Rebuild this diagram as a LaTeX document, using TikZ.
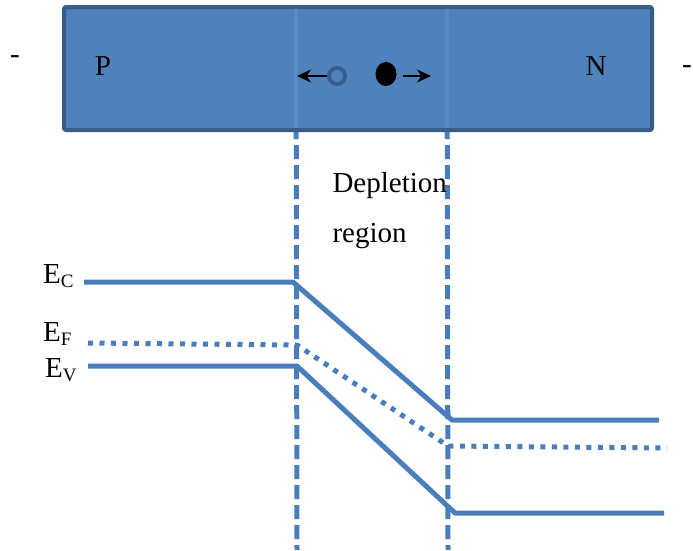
\documentclass[tikz,border=0pt]{standalone}
\usepackage{fontspec}
\setmainfont{Liberation Serif}
\usetikzlibrary{arrows.meta,shapes.geometric}
\definecolor{band}{HTML}{4A7EBB}
\definecolor{boxfill}{HTML}{4F81BD}
\definecolor{boxedge}{HTML}{385D8A}
\newcommand{\lvl}[1]{E\raisebox{-4pt}{\fontsize{19}{19}\selectfont #1}}

\begin{document}
\begin{tikzpicture}[x=1pt,y=-1pt,>={Stealth[length=14pt,width=13pt]}, font=\fontsize{29}{34}\selectfont, line join=round]
	\tikzset{
		level/.style={band, line width=5pt},
		fermi/.style={band, line width=5pt, dash pattern=on 5pt off 6.5pt},
		junction/.style={band, line width=5pt, dash pattern=on 14pt off 6pt},
	}
	\useasboundingbox (0,0) rectangle (693,550);
	% junction edges
	\coordinate (J1t) at (296,5);
	\coordinate (J1b) at (297,550);
	\coordinate (J2t) at (447,5);
	\coordinate (J2b) at (448,550);
	\draw[junction] (J1t) -- (J1b);
	\draw[junction] (J2t) -- (J2b);
	% the crystal
	\draw[boxedge, fill=boxfill, line width=4pt, rounded corners=2pt] (64,7) rectangle (652,130);
	\draw[band!85!white, line width=4pt, opacity=0.6] (296,9) -- (296,128) (447,9) -- (447,128);
	\node (P) at (103,66) {P};
	\node (N) at (596,66) {N};
	\node (mL) at (15,60) {-};
	\node (mR) at (687,70) {-};
	% carriers
	\node[circle, draw=boxedge, line width=4pt, minimum size=16pt, inner sep=0] (hole) at (337,76) {};
	\node[ellipse, fill=black, minimum width=21pt, minimum height=24pt, inner sep=0] (electron) at (386,74) {};
	\coordinate (hend) at (297,76);
	\coordinate (estart) at (403,76);
	\coordinate (eend) at (431,76);
	\draw[->, line width=2pt] (hole.west) -- (hend);
	\draw[->, line width=2pt] (estart) -- (eend);
	\node[anchor=base west] (dep) at (329,192) {Depletion};
	\node[anchor=base west] (reg) at (329,242) {region};
	% band edges
	\coordinate (C1) at (84,282);
	\coordinate (C2) at (293,282);
	\coordinate (C3) at (452,420);
	\coordinate (C4) at (659,420);
	\coordinate (F1) at (88,343);
	\coordinate (F2) at (297,345);
	\coordinate (F3) at (448,446);
	\coordinate (F4) at (667,448);
	\coordinate (V1) at (88,366);
	\coordinate (V2) at (297,366);
	\coordinate (V3) at (455,513);
	\coordinate (V4) at (664,513);
	\draw[level] (C1) -- (C2) -- (C3) -- (C4);
	\draw[fermi] (F1) -- (F2) -- (F3) -- (F4);
	\draw[level] (V1) -- (V2) -- (V3) -- (V4);
	\node[anchor=base west, inner sep=0] (EC) at (43,283) {\lvl{C}};
	\node[anchor=base west, inner sep=0] (EF) at (43,341) {\lvl{F}};
	\node[anchor=base west, inner sep=0] (EV) at (45,377) {\lvl{V}};
\end{tikzpicture}
\end{document}
